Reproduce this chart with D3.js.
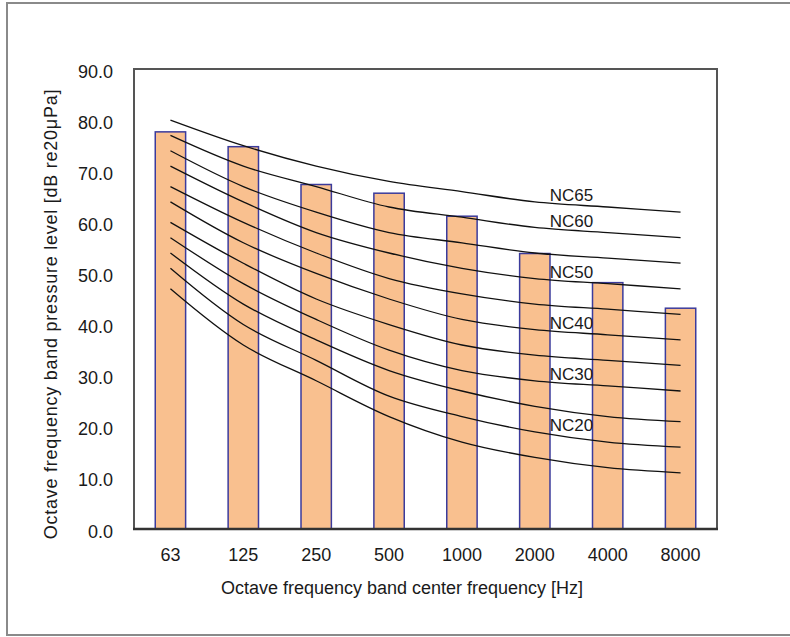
<!DOCTYPE html>
<html>
<head>
<meta charset="utf-8">
<script src="https://cdn.jsdelivr.net/npm/d3@7"></script>
<style>
  body { margin: 0; background: #fff; }
  text { font-family: "Liberation Sans", Arial, sans-serif; fill: #1a1a1a; }
</style>
</head>
<body>
<script>
// octave band centre frequencies
const bands = ["63", "125", "250", "500", "1000", "2000", "4000", "8000"];
// measured band levels (bars)
const levels = [77.7, 74.8, 67.4, 65.7, 61.2, 53.9, 48.2, 43.2];
// NC criteria curves
const ncNames = ["NC15", "NC20", "NC25", "NC30", "NC35", "NC40", "NC45", "NC50", "NC55", "NC60", "NC65"];
const ncValues = [
  [47, 36, 29, 22, 17, 14, 12, 11],
  [51, 40, 33, 26, 22, 19, 17, 16],
  [54, 44, 37, 31, 27, 24, 22, 21],
  [57, 48, 41, 35, 31, 29, 28, 27],
  [60, 52, 45, 40, 36, 34, 33, 32],
  [64, 56, 50, 45, 41, 39, 38, 37],
  [67, 60, 54, 49, 46, 44, 43, 42],
  [71, 64, 58, 54, 51, 49, 48, 47],
  [74, 67, 62, 58, 56, 54, 53, 52],
  [77, 71, 67, 63, 61, 59, 58, 57],
  [80, 75, 71, 68, 66, 64, 63, 62]
];
const labelled = ["NC65", "NC60", "NC50", "NC40", "NC30", "NC20"];
const yTicks = [0, 10, 20, 30, 40, 50, 60, 70, 80, 90];

const W = 790, H = 637;
const margin = { top: 69, right: 73, bottom: 108, left: 134 };
const width = W - margin.left - margin.right;
const height = H - margin.top - margin.bottom;

const svg = d3.select("body").append("svg")
  .attr("width", W)
  .attr("height", H);

// outer chart frame
svg.append("rect")
  .attr("x", 7).attr("y", 3)
  .attr("width", 820).attr("height", 632)
  .attr("fill", "none")
  .attr("stroke", "#8a8a8a")
  .attr("stroke-width", 2);

const g = svg.append("g")
  .attr("transform", "translate(" + margin.left + "," + margin.top + ")");

const x = d3.scaleBand().domain(bands).range([0, width]);
const y = d3.scaleLinear().domain([0, 90]).range([height, 0]);
const barW = x.bandwidth() / 2.4;
const cx = (d) => x(d) + x.bandwidth() / 2;

// bars
g.selectAll(".bar")
  .data(bands)
  .enter()
  .append("rect")
  .attr("class", "bar")
  .attr("x", (d) => cx(d) - barW / 2)
  .attr("width", barW)
  .attr("y", (d, i) => y(levels[i]))
  .attr("height", (d, i) => y(0) - y(levels[i]))
  .attr("fill", "#f9c08f")
  .attr("stroke", "#3b3b9c")
  .attr("stroke-width", 1.5);

// NC curves
const line = d3.line()
  .x((d, i) => cx(bands[i]))
  .y((d) => y(d))
  .curve(d3.curveCatmullRom.alpha(0.5));

g.selectAll(".nc")
  .data(ncValues)
  .enter()
  .append("path")
  .attr("class", "nc")
  .attr("d", line)
  .attr("fill", "none")
  .attr("stroke", "#111")
  .attr("stroke-width", 1.3);

// curve labels
g.selectAll(".nclabel")
  .data(labelled)
  .enter()
  .append("text")
  .attr("class", "nclabel")
  .attr("x", cx("2000") + 15)
  .attr("y", (d) => y(+d.slice(2) + 0.3))
  .attr("dy", "0.35em")
  .attr("font-size", 17)
  .text((d) => d);

// plot border
g.append("rect")
  .attr("x", 0).attr("y", 0)
  .attr("width", width).attr("height", height)
  .attr("fill", "none")
  .attr("stroke", "#555")
  .attr("stroke-width", 2);

g.append("line")
  .attr("x1", -1).attr("x2", width + 1)
  .attr("y1", height).attr("y2", height)
  .attr("stroke", "#333")
  .attr("stroke-width", 2.5);

// y axis labels
const yAxis = d3.axisLeft(y).tickValues(yTicks).tickSize(0).tickPadding(21)
  .tickFormat(d3.format(".1f"));
g.append("g").call(yAxis)
  .call((s) => s.select(".domain").remove())
  .selectAll("text")
  .attr("font-size", 18)
  .attr("dy", "0.45em")
  .attr("fill", "#1a1a1a");

// x axis labels
const xAxis = d3.axisBottom(x).tickSize(0).tickPadding(19);
g.append("g")
  .attr("transform", "translate(0," + height + ")")
  .call(xAxis)
  .call((s) => s.select(".domain").remove())
  .selectAll("text")
  .attr("font-size", 18)
  .attr("fill", "#1a1a1a");

svg.selectAll(".tick text").style("font-family", "'Liberation Sans', Arial, sans-serif");

// axis titles
svg.append("text")
  .attr("x", 402).attr("y", 594)
  .attr("text-anchor", "middle")
  .attr("font-size", 18)
  .text("Octave frequency band center frequency [Hz]");

svg.append("text")
  .attr("transform", "translate(57,314) rotate(-90)")
  .attr("text-anchor", "middle")
  .attr("font-size", 18)
  .attr("letter-spacing", 0.75)
  .text("Octave frequency band pressure level [dB re20μPa]");
</script>
</body>
</html>
